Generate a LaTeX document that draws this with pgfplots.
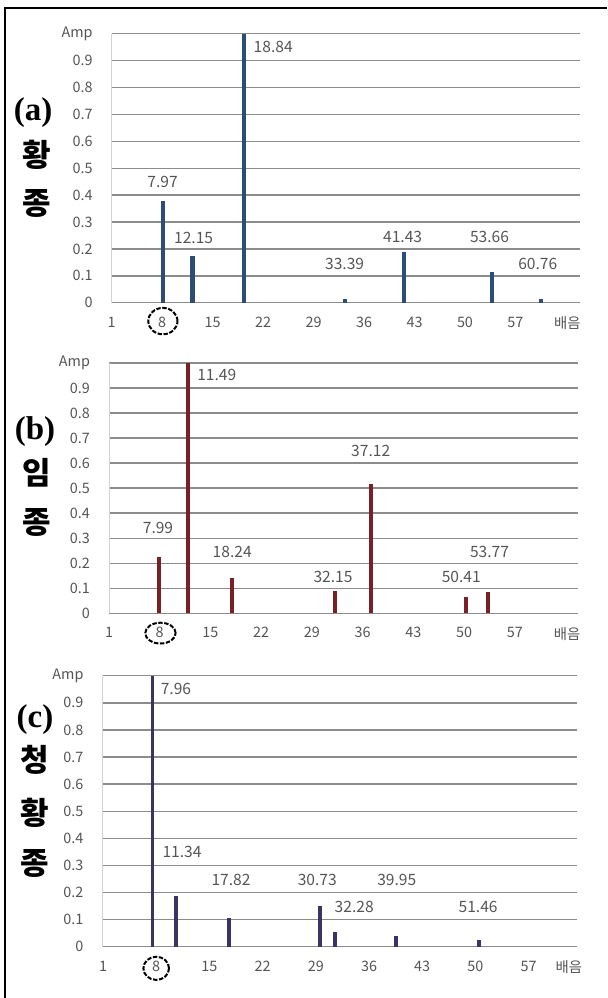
\documentclass[border=0pt]{standalone}
\usepackage{pgfplots}
\pgfplotsset{compat=1.18}
\usepackage{fontspec}
\setmainfont{Noto Sans CJK KR}
\newfontfamily\lbl{Liberation Serif}
\definecolor{barA}{RGB}{44,77,117}
\definecolor{barB}{RGB}{120,32,38}
\definecolor{barC}{RGB}{58,52,100}
\definecolor{gridc}{RGB}{140,140,140}
\definecolor{txt}{RGB}{85,85,85}

\tikzset{dl/.style={font=\fontsize{7.8}{9}\selectfont, text=txt},
         circ/.style={black, line width=1pt, dash pattern=on 2.2pt off 0.8pt}}
\pgfplotsset{
  harm/.style={
    scale only axis,
    anchor=south west,
    ymin=0, ymax=1,
    xmin=1,
    axis x line*=bottom,
    axis y line*=left,
    x axis line style={draw=gridc, line width=0.7pt},
    y axis line style={draw=gray!35, line width=0.5pt},
    ymajorgrids,
    grid style={draw=gridc, line width=0.7pt},
    major tick length=0pt,
    ytick={0,0.1,0.2,0.3,0.4,0.5,0.6,0.7,0.8,0.9,1},
    yticklabels={0,0.1,0.2,0.3,0.4,0.5,0.6,0.7,0.8,0.9,Amp},
    xticklabels={1,8,15,22,29,36,43,50,57,배음},
    tick label style={font=\fontsize{7.2}{8}\selectfont, text=txt},
    yticklabel style={xshift=-6pt},
    xticklabel style={yshift=-3.5pt},
    /pgf/number format/assume math mode=true,
    clip=false,
  },
}

\begin{document}
\begin{tikzpicture}
\path[use as bounding box] (0,0) rectangle (303.5pt,-499pt);
% frame
\draw[black, line width=1pt] (2.5pt,-499pt) -- (2.5pt,-4pt) -- (303.5pt,-4pt);

% (a)
\begin{axis}[harm, at={(55.85pt,-151.35pt)}, width=234.15pt, height=134.5pt,
  xmax=65.95, xtick={1,8,15,22,29,36,43,50,57,64.2}]
\addplot[ycomb, line width=2.1pt, color=barA] coordinates {
  (8.16,0.379) (12.2,0.174) (19.35,1.0) (33.4,0.012) (41.5,0.19) (53.7,0.115) (60.5,0.012)};
\node[dl] at (axis cs:8.06,0.45) {7.97};
\node[dl] at (axis cs:12.36,0.239) {12.15};
\node[dl] at (axis cs:23.4,0.952) {18.84};
\node[dl] at (axis cs:33.3,0.144) {33.39};
\node[dl] at (axis cs:41.35,0.243) {41.43};
\node[dl] at (axis cs:53.4,0.243) {53.66};
\node[dl] at (axis cs:60.1,0.144) {60.76};
\draw[circ] ([yshift=-9.2pt]axis cs:8.1,0) ellipse (7.3pt and 6.6pt);
\end{axis}

% (b)
\begin{axis}[harm, at={(54.5pt,-306.65pt)}, width=234.5pt, height=125.15pt,
  xmax=65.7, xtick={1,8,15,22,29,36,43,50,57,64.2}]
\addplot[ycomb, line width=2.1pt, color=barB] coordinates {
  (7.94,0.224) (11.9,1.0) (18.0,0.14) (32.2,0.09) (37.1,0.515) (50.2,0.064) (53.3,0.084)};
\node[dl] at (axis cs:7.76,0.34) {7.99};
\node[dl] at (axis cs:15.87,0.953) {11.49};
\node[dl] at (axis cs:18.0,0.246) {18.24};
\node[dl] at (axis cs:31.9,0.144) {32.15};
\node[dl] at (axis cs:37.1,0.65) {37.12};
\node[dl] at (axis cs:49.6,0.144) {50.41};
\node[dl] at (axis cs:53.5,0.246) {53.77};
\draw[circ] ([yshift=-9.9pt]axis cs:8.1,0) ellipse (7.6pt and 5.2pt);
\end{axis}

% (c)
\begin{axis}[harm, at={(51.25pt,-473.35pt)}, width=237.15pt, height=135.5pt,
  xmin=0.934, xmax=63.34, xtick={1,8,15,22,29,36,43,50,57,62.3}]
\addplot[ycomb, line width=1.9pt, color=barC] coordinates {
  (7.5,1.0) (10.6,0.188) (17.6,0.105) (29.6,0.15) (31.5,0.055) (39.55,0.04) (50.5,0.025)};
\node[dl] at (axis cs:10.6,0.953) {7.96};
\node[dl] at (axis cs:11.4,0.35) {11.34};
\node[dl] at (axis cs:17.85,0.246) {17.82};
\node[dl] at (axis cs:29.2,0.246) {30.73};
\node[dl] at (axis cs:39.66,0.246) {39.95};
\node[dl] at (axis cs:34.05,0.145) {32.28};
\node[dl] at (axis cs:50.36,0.145) {51.46};
\draw[circ] ([yshift=-10.8pt]axis cs:8,0) ellipse (6.4pt and 5.8pt);
\end{axis}

% side labels
\tikzset{pl/.style={font=\lbl\bfseries\fontsize{16.5}{16}\selectfont},
         kr/.style={font=\bfseries\fontsize{15.5}{16}\selectfont}}
\node[pl] at (16.5pt,-56.5pt) {(a)};
\node[kr] at (18.5pt,-77.5pt) {황};
\node[kr] at (18.5pt,-101.5pt) {종};
\node[pl] at (17.5pt,-216pt) {(b)};
\node[kr] at (18.5pt,-236.5pt) {임};
\node[kr] at (18.5pt,-261pt) {종};
\node[pl] at (17.5pt,-360pt) {(c)};
\node[kr] at (17.5pt,-380pt) {청};
\node[kr] at (17.5pt,-406.5pt) {황};
\node[kr] at (17.5pt,-431.5pt) {종};
\end{tikzpicture}
\end{document}
